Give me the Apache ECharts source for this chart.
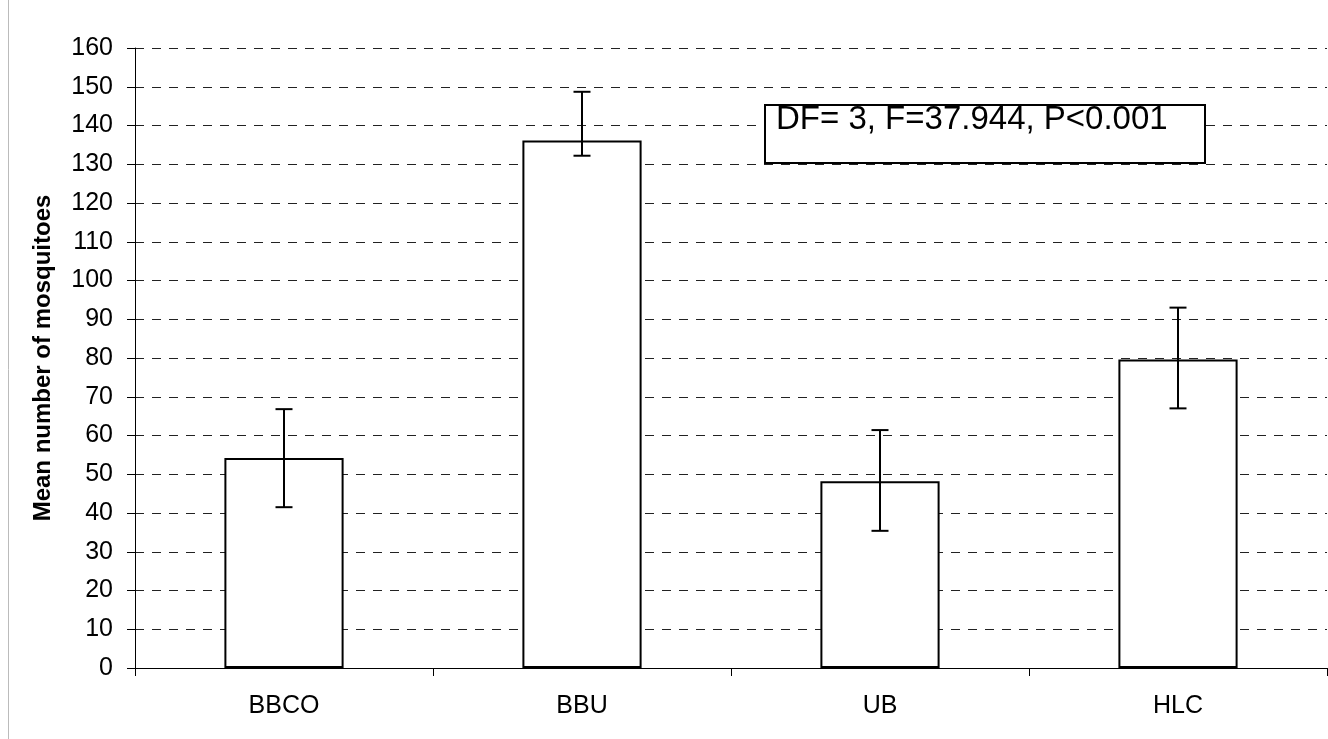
<!DOCTYPE html>
<html>
<head>
<meta charset="utf-8">
<script src="https://cdn.jsdelivr.net/npm/echarts@6/dist/echarts.min.js"></script>
<style>
html,body{margin:0;padding:0;background:#fff;}
#c{width:1328px;height:739px;}
</style>
</head>
<body>
<div id="c"></div>
<script>
const categories = ['BBCO', 'BBU', 'UB', 'HLC'];
const means = [54.2, 136.1, 48.2, 79.6];
const errLow = [41.5, 132.2, 35.4, 67.0];
const errHigh = [66.8, 148.7, 61.4, 93.0];
const yTicks = {min: 0, max: 160, interval: 10};
const annotation = 'DF= 3, F=37.944, P<0.001';

const FONT = '"Liberation Sans", Arial, sans-serif';
const chart = echarts.init(document.getElementById('c'));

const errData = categories.map((c, i) => [i, errLow[i], errHigh[i]]);

chart.setOption({
  animation: false,
  backgroundColor: '#fff',
  grid: {left: 135, right: 1, top: 48, bottom: 71, containLabel: false},
  xAxis: {
    type: 'category',
    data: categories,
    boundaryGap: true,
    axisLine: {show: true, lineStyle: {color: '#000', width: 1}},
    axisTick: {show: true, interval: 0, length: 8, lineStyle: {color: '#000'}},
    axisLabel: {color: '#000', fontSize: 25, fontFamily: FONT, margin: 26, interval: 0},
    splitLine: {show: false}
  },
  yAxis: {
    type: 'value',
    min: yTicks.min, max: yTicks.max, interval: yTicks.interval,
    name: 'Mean number of mosquitoes',
    nameLocation: 'middle',
    nameRotate: 90,
    nameGap: 80,
    nameTextStyle: {color: '#000', fontSize: 24, fontWeight: 'bold', fontFamily: FONT},
    axisLine: {show: true, lineStyle: {color: '#000', width: 1}},
    axisTick: {show: true, length: 8, lineStyle: {color: '#000'}},
    axisLabel: {color: '#000', fontSize: 25, fontFamily: FONT, margin: 22},
    splitLine: {show: true, lineStyle: {color: '#222', width: 1, type: [9, 8]}}
  },
  series: [
    {
      type: 'bar',
      data: means,
      barWidth: '40%',
      itemStyle: {color: '#fff', borderColor: '#000', borderWidth: 2},
      z: 2
    },
    {
      type: 'custom',
      data: errData,
      z: 3,
      renderItem: function (params, api) {
        const x = api.value(0);
        const lo = api.coord([x, api.value(1)]);
        const hi = api.coord([x, api.value(2)]);
        const cw = 8.5;
        const st = {stroke: '#000', lineWidth: 2};
        return {
          type: 'group',
          children: [
            {type: 'line', shape: {x1: lo[0], y1: lo[1], x2: hi[0], y2: hi[1]}, style: st},
            {type: 'line', shape: {x1: hi[0] - cw, y1: hi[1], x2: hi[0] + cw, y2: hi[1]}, style: st},
            {type: 'line', shape: {x1: lo[0] - cw, y1: lo[1], x2: lo[0] + cw, y2: lo[1]}, style: st}
          ]
        };
      }
    }
  ],
  graphic: [
    {type: 'line', shape: {x1: 8.5, y1: 0, x2: 8.5, y2: 739}, style: {stroke: '#bbb', lineWidth: 1}},
    {type: 'rect', shape: {x: 765, y: 105, width: 440, height: 58}, style: {fill: '#fff', stroke: '#000', lineWidth: 2}, z: 10},
    {type: 'text', x: 776, y: 120, z: 11, style: {text: annotation, fill: '#000', font: '33px ' + FONT, verticalAlign: 'middle', align: 'left'}}
  ]
});
</script>
</body>
</html>
